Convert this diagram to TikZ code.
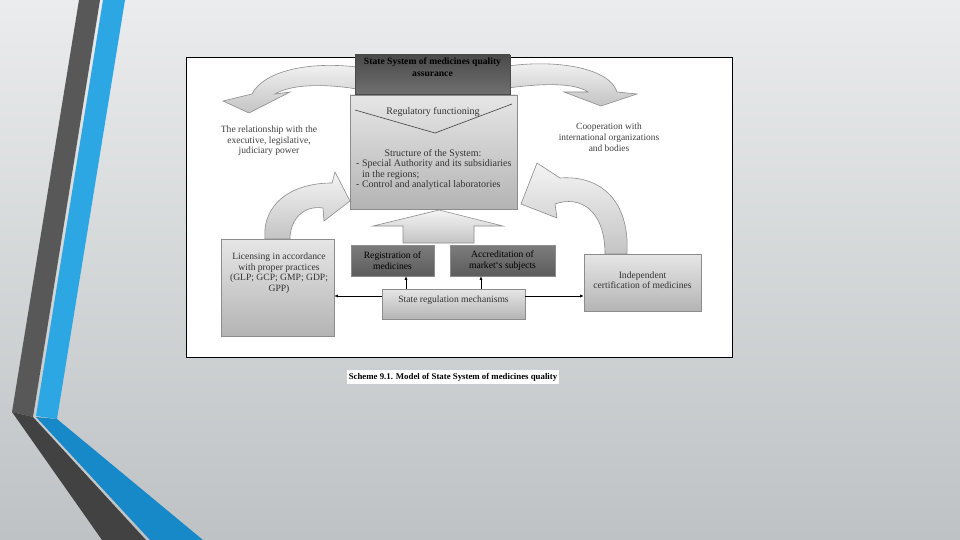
\documentclass[tikz,border=0pt]{standalone}
\usepackage{fontspec}
\setmainfont{Liberation Serif}
\usetikzlibrary{arrows.meta}
\definecolor{bgtop}{HTML}{EAECED}
\definecolor{bgbot}{HTML}{BEC2C4}
\definecolor{stdarkA}{HTML}{585858}
\definecolor{stdarkB}{HTML}{424242}
\definecolor{stblueA}{HTML}{2DA7E4}
\definecolor{stblueB}{HTML}{1788C8}
\definecolor{lbtop}{HTML}{E6E6E6}
\definecolor{lbbot}{HTML}{B4B4B4}
\definecolor{dbtop}{HTML}{7C7C7C}
\definecolor{dbbot}{HTML}{5C5C5C}
\definecolor{ttop}{HTML}{4A4A4A}
\definecolor{tbot}{HTML}{707070}
\definecolor{boxline}{HTML}{8C8C8C}
\definecolor{arrtop}{HTML}{F4F4F4}
\definecolor{arrbot}{HTML}{C4C4C4}
\definecolor{txt}{HTML}{333333}
\tikzset{
  lightbox/.style={draw=boxline, line width=0.6pt, top color=lbtop, bottom color=lbbot, inner sep=1pt},
  darkbox/.style={draw=boxline, line width=0.6pt, top color=dbtop, bottom color=dbbot, text=black, align=center, inner sep=1pt, font=\fontsize{9.6}{10.5}\selectfont},
  titlebox/.style={draw=ttop, line width=0.6pt, top color=ttop, bottom color=tbot, inner sep=0pt},
  bigarrow/.style={draw=boxline, line width=0.6pt, top color=arrtop, bottom color=arrbot},
  plain/.style={font=\fontsize{9.6}{10.5}\selectfont, text=txt, align=center, inner sep=0pt},
  conn/.style={-{Latex[length=3.5pt,width=3pt]}, line width=0.6pt, black},
}
\begin{document}
\begin{tikzpicture}[x=1pt,y=-1pt]
\useasboundingbox (0,0) rectangle (960,540);
% background
\shade[top color=bgtop, bottom color=bgbot] (0,0) rectangle (960,540);
% stripes
\fill[stdarkA] (79,0) -- (100,0) -- (33,417) -- (12,412) -- cycle;
\fill[stblueA] (103,0) -- (125,0) -- (57,419) -- (36,416) -- cycle;
\fill[stdarkB] (12,412) -- (33,417) -- (146,540) -- (102,540) -- cycle;
\fill[stblueB] (36,417) -- (57,419) -- (203,540) -- (150,540) -- cycle;
% frame
\draw[line width=0.6pt, fill=white] (186,57) rectangle (732,357);
% curved arrows
\path[bigarrow] (357,67) .. controls (306,61) and (263,72) .. (252,94) -- (223,101) -- (249,113) -- (290,92) -- (275,94) .. controls (290,85) and (320,83) .. (357,89) -- cycle;
\path[bigarrow] (508,66) .. controls (560,59) and (610,69) .. (617,92) -- (637,94) -- (601,106) -- (564,92) -- (588,92) .. controls (575,83) and (545,83) .. (508,88) -- cycle;
\path[bigarrow] (265,239) .. controls (262,205) and (290,183) .. (332,183) -- (335,172) -- (350,201) -- (324,221) -- (323,208) .. controls (303,205) and (290,220) .. (290,239) -- cycle;
\path[bigarrow] (627,254) .. controls (630,200) and (600,175) .. (560,178) -- (537,163) -- (521,204) -- (557,218) -- (555,204) .. controls (580,195) and (605,210) .. (605,254) -- cycle;
% main box
\node[lightbox, minimum width=167pt, minimum height=114pt] (main) at (433.5,152) {};
\node[titlebox, minimum width=155pt, minimum height=39pt] (title) at (432.5,74.5) {};
\node[font=\bfseries\fontsize{9.6}{12}\selectfont, text=black, align=center, inner sep=0pt] (titletext) at (432.5,67.5) {State System of medicines quality\\assurance};
\draw[line width=0.6pt, black!75] (355,110) -- (435,133) -- (512,104);
\node[plain, font=\fontsize{10}{10.5}\selectfont] (regf) at (433,112) {Regulatory functioning};
\node[plain, font=\fontsize{10}{10.5}\selectfont] (structhead) at (433,154) {Structure of the System:};
\node[plain, font=\fontsize{10}{10.5}\selectfont, align=left, anchor=west] (structlist) at (356,175) {- Special Authority and its subsidiaries\\\hspace*{6pt}in the regions;\\- Control and analytical laboratories};
% block arrow up
\path[bigarrow] (403,243) -- (403,226) -- (373,226) -- (439,210) -- (503,226) -- (474,226) -- (474,243) -- cycle;
% lower boxes
\node[darkbox, minimum width=83pt, minimum height=31pt] (reg) at (392.5,260.5) {Registration of\\medicines};
\node[darkbox, minimum width=105pt, minimum height=31pt] (acc) at (502.5,260.5) {Accreditation of\\market`s subjects};
\node[lightbox, minimum width=143pt, minimum height=30pt] (srm) at (453.5,304) {};
\node[plain] (srmtext) at (453.5,300) {State regulation mechanisms};
\node[lightbox, minimum width=113pt, minimum height=97pt] (lic) at (277.5,287.5) {};
\node[plain] (lictext) at (279,273) {Licensing in accordance\\with proper practices\\(GLP; GCP; GMP; GDP;\\GPP)};
\node[lightbox, minimum width=117pt, minimum height=57pt] (ind) at (642.5,282.5) {};
\node[plain] (indtext) at (642.5,280) {Independent\\certification of medicines};
% connectors
\path ([xshift=13.5pt]reg.south) coordinate (ra);
\path ([xshift=-21.5pt]acc.south) coordinate (aa);
\draw[conn] ([yshift=8pt]srm.west) -- ([yshift=8pt]srm.west -| lic.east);
\draw[conn] ([yshift=8pt]srm.east) -- ([yshift=8pt]srm.east -| ind.west);
\draw[conn] (srm.north -| ra) -- (ra);
\draw[conn] (srm.north -| aa) -- (aa);
% outside texts
\node[plain, text=black!75] (lefttext) at (269,141) {The relationship with the\\executive, legislative,\\judiciary power};
\node[plain, text=black!75, font=\fontsize{9.4}{10.8}\selectfont] (righttext) at (609,137) {Cooperation with\\international organizations\\and bodies};
% caption
\node[fill=white, inner xsep=2pt, inner ysep=3pt, font=\bfseries\fontsize{8.8}{10}\selectfont] (cap) at (453,377) {Scheme 9.1. Model of State System of medicines quality};
\end{tikzpicture}
\end{document}
